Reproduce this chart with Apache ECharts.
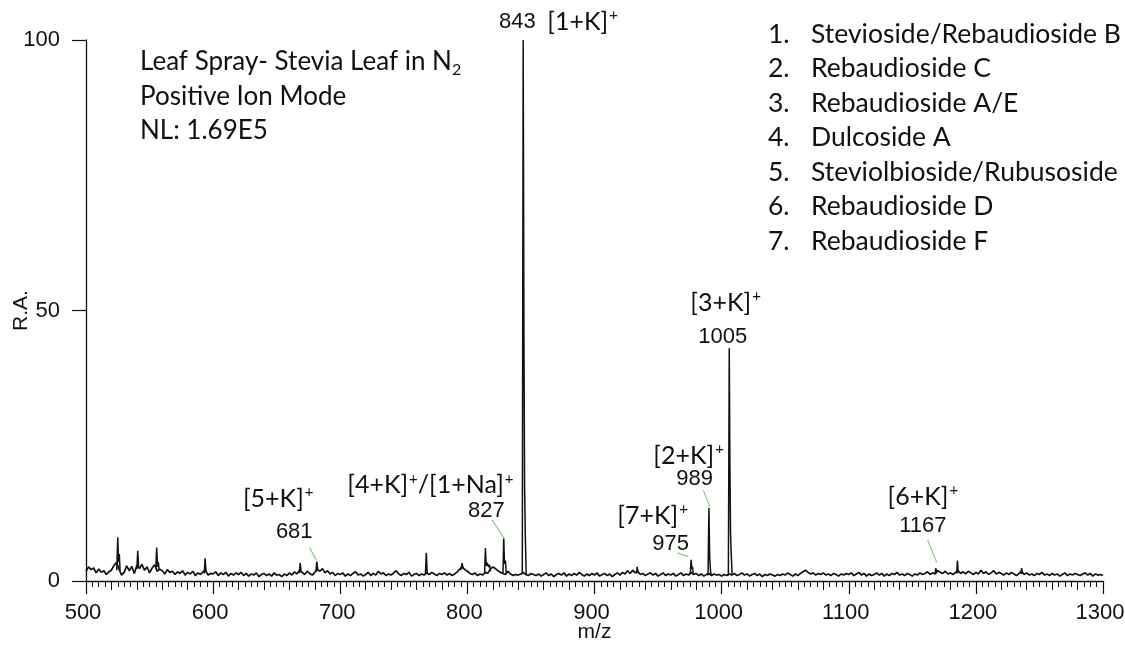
<!DOCTYPE html>
<html>
<head>
<meta charset="utf-8">
<script src="https://cdn.jsdelivr.net/npm/echarts@6/dist/echarts.min.js"></script>
<style>
html, body { margin: 0; padding: 0; background: #fff; }
#chart { width: 1125px; height: 652px; }
</style>
</head>
<body>
<div id="chart"></div>
<script>
// baseline noise, sampled every 2 m/z from 500
const baseStart = 500
const baseStep = 2
const baseRA = [
  1.8, 2.6, 2.1, 2.4, 1.5, 2.2, 1.6, 1.9, 1.2, 1.7,
  2.0, 2.9, 3.4, 2.2, 1.1, 1.6, 2.8, 1.9, 2.7, 1.4,
  2.9, 2.3, 3.1, 2.0, 2.6, 1.5, 2.4, 3.0, 1.8, 2.2,
  1.9, 1.3, 2.1, 1.6, 1.8, 1.2, 1.7, 1.4, 1.9, 1.1,
  1.6, 1.3, 1.8, 1.0, 1.5, 1.2, 1.7, 2.0, 1.1, 1.4,
  1.3, 1.7, 1.0, 1.5, 1.2, 1.6, 0.9, 1.4, 1.1, 1.5,
  1.2, 1.6, 1.0, 1.4, 0.9, 1.3, 1.1, 1.5, 0.8, 1.2,
  1.4, 1.0, 1.3, 0.9, 1.5, 1.1, 1.2, 0.8, 1.3, 1.0,
  1.5, 1.1, 1.7, 1.3, 2.0, 1.6, 1.2, 1.8, 1.4, 1.1,
  1.6, 2.1, 1.8, 2.3, 1.5, 1.9, 1.3, 1.6, 1.0, 1.4,
  1.2, 1.5, 0.9, 1.3, 1.0, 1.4, 1.7, 1.1, 1.3, 0.9,
  1.2, 1.6, 1.0, 1.4, 1.1, 1.8, 1.3, 1.5, 1.0, 1.3,
  1.1, 1.5, 1.9, 1.3, 1.0, 1.4, 1.2, 1.6, 0.9, 1.2,
  1.4, 1.0, 1.3, 1.1, 1.5, 1.2, 1.6, 1.3, 1.0, 1.4,
  1.2, 1.5, 1.1, 1.4, 1.0, 1.3, 1.7, 2.2, 2.6, 2.1,
  1.8, 1.4, 1.2, 1.5, 1.0, 1.3, 1.1, 1.6, 1.4, 2.2,
  2.6, 2.3, 1.9, 1.6, 1.4, 1.2, 1.8, 1.3, 1.0, 1.2,
  1.1, 1.3, 1.6, 1.2, 1.0, 1.4, 1.2, 1.0, 1.3, 0.9,
  1.2, 1.5, 1.0, 1.3, 0.8, 1.2, 1.4, 1.1, 1.5, 0.9,
  1.3, 1.0, 1.4, 1.1, 1.6, 1.2, 0.9, 1.3, 1.0, 1.4,
  1.1, 1.5, 0.9, 1.2, 1.4, 1.0, 1.3, 0.8, 1.2, 1.5,
  1.1, 1.6, 1.3, 1.9, 1.4, 2.0, 1.5, 1.8, 1.2, 1.4,
  1.0, 1.3, 1.5, 1.1, 1.4, 0.9, 1.2, 1.5, 1.0, 1.3,
  1.1, 1.4, 0.9, 1.2, 1.5, 1.0, 1.3, 1.1, 1.6, 1.2,
  1.4, 1.0, 1.3, 0.9, 1.2, 1.4, 1.0, 1.3, 1.1, 1.2,
  0.9, 1.2, 1.0, 1.3, 1.1, 1.4, 1.0, 1.2, 1.5, 1.1,
  1.3, 0.9, 1.2, 1.4, 1.0, 1.3, 0.8, 1.2, 1.0, 1.3,
  1.1, 0.9, 1.2, 1.0, 1.3, 1.1, 1.5, 1.2, 0.9, 1.3,
  1.0, 1.4, 1.7, 2.0, 1.6, 1.3, 1.5, 1.1, 1.4, 1.2,
  1.5, 1.1, 1.3, 1.0, 1.4, 1.2, 0.9, 1.3, 1.1, 1.4,
  1.2, 1.5, 1.0, 1.3, 1.6, 1.1, 1.4, 0.9, 1.3, 1.0,
  1.2, 1.5, 1.1, 1.4, 0.9, 1.3, 1.0, 1.4, 1.2, 1.6,
  1.1, 1.3, 1.0, 1.4, 1.2, 0.9, 1.3, 1.1, 1.5, 1.2,
  1.4, 1.7, 1.2, 1.5, 1.3, 1.9, 1.6, 1.4, 1.8, 1.3,
  1.5, 1.2, 1.6, 1.9, 1.4, 1.7, 1.3, 1.8, 1.5, 1.2,
  1.6, 1.3, 2.0, 1.4, 1.7, 1.2, 1.5, 1.9, 1.3, 1.6,
  1.4, 1.1, 1.5, 1.2, 1.6, 1.3, 1.0, 1.4, 1.8, 1.2,
  1.5, 1.1, 1.3, 1.0, 1.4, 1.2, 1.6, 1.1, 1.3, 1.0,
  1.4, 1.1, 1.3, 0.9, 1.2, 1.5, 1.0, 1.3, 1.1, 1.4,
  1.2, 1.0, 1.3, 1.5, 1.1, 1.4, 0.9, 1.3, 1.1, 1.2,
  1.0
]

// peaks: [m/z, R.A.] points
const peaks = [
  [[524.2, 2.0], [525.0, 8.1], [525.6, 3.5], [526.2, 5.0], [526.8, 2.0]],
  [[540.0, 2.2], [540.7, 5.6], [541.4, 2.5]],
  [[554.9, 2.2], [555.6, 6.2], [556.3, 2.6], [556.9, 3.5], [557.5, 2.0]],
  [[593.0, 1.4], [593.7, 4.2], [594.4, 1.6]],
  [[667.8, 1.5], [668.5, 3.3], [669.2, 1.6]],
  [[680.9, 1.8], [681.6, 3.6], [682.3, 2.0]],
  [[767.0, 1.3], [767.7, 5.2], [768.4, 1.4]],
  [[794.8, 2.0], [795.8, 3.3], [796.8, 2.2]],
  [[813.6, 1.6], [814.2, 6.1], [814.8, 2.8], [815.6, 3.4], [816.6, 2.6], [817.4, 3.0], [818.2, 1.8]],
  [[828.0, 1.3], [828.6, 7.9], [829.2, 3.2], [829.9, 3.8], [830.6, 1.4]],
  [[843.2, 1.2], [843.9, 100], [844.5, 45], [845.0, 17.5], [845.6, 8], [846.3, 1.2]],
  [[933.0, 1.4], [933.6, 2.6], [934.2, 1.5]],
  [[975.3, 1.2], [976.0, 3.9], [976.6, 2.2], [977.1, 2.6], [977.7, 1.2]],
  [[989.3, 1.0], [990.0, 13.5], [990.6, 4.5], [991.2, 2.0], [991.8, 1.1]],
  [[1005.3, 1.0], [1006.0, 43], [1006.5, 22], [1007.0, 9], [1007.5, 5.5], [1008.2, 1.2]],
  [[1167.9, 1.5], [1168.5, 2.4], [1169.1, 1.6]],
  [[1184.9, 1.4], [1185.5, 3.8], [1186.1, 1.5]],
  [[1235.4, 1.3], [1236.0, 2.4], [1236.6, 1.3]]
]

// peak annotations: rich text, anchor m/z, anchor R.A.
const tagText = [
  '{c|[5+K]}{s|+}', '{a|681}',
  '{c|[4+K]}{s|+}{c|/[1+Na]}{s|+}', '{a|827}',
  '{c|[2+K]}{s|+}', '{a|989}',
  '{c|[7+K]}{s|+}', '{a|975}',
  '{c|[3+K]}{s|+}', '{a|1005}',
  '{c|[6+K]}{s|+}', '{a|1167}',
  '{a|843}', '{c|[1+K]}{s|+}'
]
const tagMz = [651.2, 663.8, 770.9, 815, 974, 978.7, 945.7, 959.8, 1003.1, 1000.8, 1158.3, 1158.3, 839.4, 890.6]
const tagRA = [15.2, 9.1, 17.7, 12.9, 23.1, 18.9, 12.0, 6.8, 51.4, 45.1, 15.5, 10.2, 103.3, 103.3]

// green leader lines (from, to) in m/z, R.A.
const leaders = [
  [[675.8, 6.2], [681.1, 3.9]],
  [[819.4, 11.3], [828.6, 8.0]],
  [[985.6, 16.8], [990.6, 13.7]],
  [[965.1, 5.2], [973.8, 4.5]],
  [[1162, 7.6], [1169.3, 3.4]]
]

const compounds = [
  'Stevioside/Rebaudioside B',
  'Rebaudioside C',
  'Rebaudioside A/E',
  'Dulcoside A',
  'Steviolbioside/Rubusoside',
  'Rebaudioside D',
  'Rebaudioside F'
]

const infoLines = [
  '{t|Leaf Spray- Stevia Leaf in N}{sub|2}',
  '{t|Positive Ion Mode}',
  '{t|NL: 1.69E5}'
]

const INK = '#111'
const ARIAL = 'Liberation Sans, Arial, sans-serif'
const CALI = 'Lato, Noto Sans, sans-serif'

const baseData = baseRA.map((v, i) => [baseStart + i * baseStep, v])

const chart = echarts.init(document.getElementById('chart'))

const richStyle = {
  a: { fontFamily: ARIAL, fontSize: 22, fill: INK, lineHeight: 28 },
  c: { fontFamily: CALI, fontSize: 25, fill: INK, lineHeight: 28 },
  s: { fontFamily: CALI, fontSize: 15, fill: INK, verticalAlign: 'top', lineHeight: 28, padding: [0, 0, 0, 1] },
  t: { fontFamily: CALI, fontSize: 26, fill: INK, lineHeight: 32 },
  sub: { fontFamily: CALI, fontSize: 16, fill: INK, verticalAlign: 'bottom', lineHeight: 32 }
}

const option = {
  animation: false,
  backgroundColor: '#fff',
  grid: { left: 86, right: 22, top: 40, bottom: 71, containLabel: false, outerBoundsMode: 'none' },
  xAxis: [
    {
      type: 'value',
      min: 500,
      max: 1300,
      interval: 100,
      name: 'm/z',
      nameLocation: 'middle',
      nameGap: 41,
      nameMoveOverlap: false,
      nameTextStyle: { fontFamily: ARIAL, fontSize: 21, color: INK },
      axisLine: { show: true, lineStyle: { color: INK, width: 1.3 } },
      axisTick: { show: true, length: 13, lineStyle: { color: INK, width: 1.2 } },
      minorTick: { show: true, splitNumber: 20, length: 6, lineStyle: { color: INK, width: 1 } },
      axisLabel: {
        fontFamily: ARIAL, fontSize: 22, color: INK, margin: 21,
        padding: [0, 6, 0, 0],
        formatter: v => String(v)
      },
      splitLine: { show: false },
      minorSplitLine: { show: false }
    },
    {
      type: 'value',
      min: 500,
      max: 1300,
      interval: 20,
      position: 'bottom',
      axisLine: { show: false },
      axisTick: { show: true, length: 9, lineStyle: { color: INK, width: 1 } },
      axisLabel: { show: false },
      splitLine: { show: false }
    }
  ],
  yAxis: {
    type: 'value',
    min: 0,
    max: 100,
    interval: 50,
    name: 'R.A.',
    nameLocation: 'middle',
    nameGap: 54,
    nameMoveOverlap: false,
    nameRotate: 90,
    nameTextStyle: { fontFamily: ARIAL, fontSize: 21, color: INK },
    axisLine: { show: true, lineStyle: { color: INK, width: 1.3 } },
    axisTick: { show: true, length: 14, lineStyle: { color: INK, width: 1.2 } },
    axisLabel: { fontFamily: ARIAL, fontSize: 22, color: INK, margin: 26 },
    splitLine: { show: false }
  },
  series: [
    {
      type: 'line',
      data: baseData,
      showSymbol: false,
      symbol: 'none',
      lineStyle: { color: INK, width: 1.7 },
      z: 3,
      markLine: {
        silent: true,
        symbol: 'none',
        label: { show: false },
        lineStyle: { color: '#7fcf7f', width: 1.2, type: 'solid' },
        data: leaders.map(l => [{ coord: l[0] }, { coord: l[1] }])
      }
    }
  ].concat(peaks.map(p => ({
    type: 'line',
    data: p,
    showSymbol: false,
    symbol: 'none',
    lineStyle: { color: INK, width: 1.5 },
    z: 4
  })))
}

chart.setOption(option)

const graphic = []
tagText.forEach((t, i) => {
  const pt = chart.convertToPixel({ gridIndex: 0 }, [tagMz[i], tagRA[i]])
  graphic.push({
    type: 'text',
    x: pt[0],
    y: pt[1],
    silent: true,
    style: { text: t, align: 'center', verticalAlign: 'middle', rich: richStyle }
  })
})
infoLines.forEach((t, i) => {
  graphic.push({
    type: 'text',
    x: 140,
    y: 62 + i * 34.5,
    silent: true,
    style: { text: t, align: 'left', verticalAlign: 'middle', rich: richStyle }
  })
})
compounds.forEach((c, i) => {
  graphic.push({
    type: 'text',
    x: 768,
    y: 34 + i * 34.5,
    silent: true,
    style: { text: (i + 1) + '.', font: '26.5px ' + CALI, fill: INK, align: 'left', verticalAlign: 'middle' }
  })
  graphic.push({
    type: 'text',
    x: 811,
    y: 34 + i * 34.5,
    silent: true,
    style: { text: c, font: '26.5px ' + CALI, fill: INK, align: 'left', verticalAlign: 'middle' }
  })
})
chart.setOption({ graphic: graphic })
</script>
</body>
</html>
